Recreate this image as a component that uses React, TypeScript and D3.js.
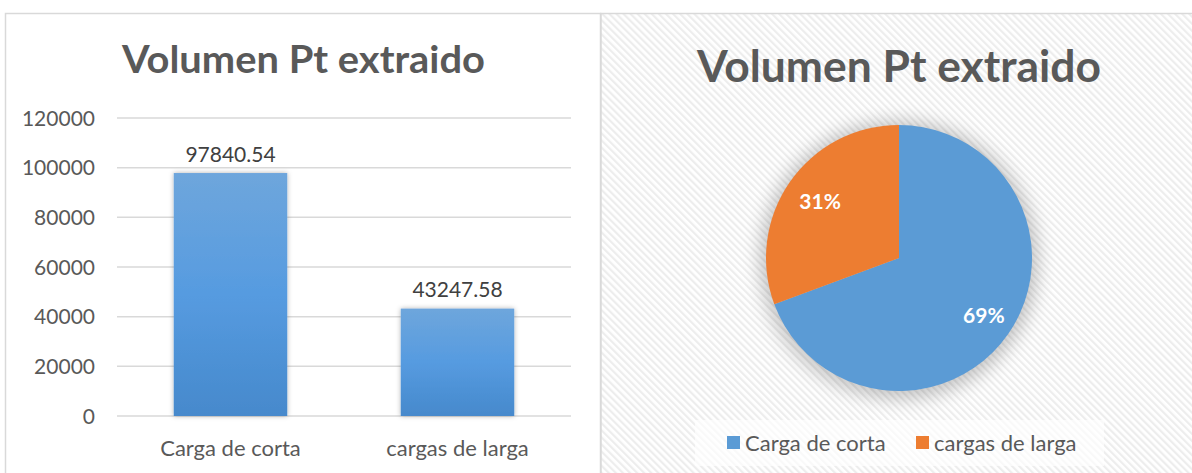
import React from "react";
import * as d3 from "d3";

const categories = ["Carga de corta", "cargas de larga"];
const values = [97840.54, 43247.58];
const yTicks = [0, 20000, 40000, 60000, 80000, 100000, 120000];
const title = "Volumen Pt extraido";
const pieColors = ["#5b9bd5", "#ed7d31"];

const FONT = "Lato, 'Open Sans', sans-serif";
const GREY = "#595959";

export default function App() {
  const x = d3
    .scaleBand<string>()
    .domain(categories)
    .range([117, 571])
    .paddingInner(0.5)
    .paddingOuter(0.25);
  const y = d3.scaleLinear().domain([0, 120000]).range([416, 118]);

  const cx = 899;
  const cy = 258;
  const r = 133;
  const pie = d3.pie<number>().sort(null).startAngle(0).endAngle(2 * Math.PI);
  const arcs = pie(values);
  const arcGen = d3.arc<d3.PieArcDatum<number>>().innerRadius(0).outerRadius(r);
  const labelArc = d3
    .arc<d3.PieArcDatum<number>>()
    .innerRadius(r * 0.75)
    .outerRadius(r * 0.75);
  const total = d3.sum(values);

  return (
    <svg
      width={1192}
      height={473}
      style={{ position: "absolute", left: 0, top: 0, background: "#fff" }}
    >
      <defs>
        <pattern
          id="stripes"
          width={5}
          height={5}
          patternUnits="userSpaceOnUse"
          patternTransform="rotate(-45)"
        >
          <rect width={5} height={5} fill="#ffffff" />
          <rect width={2.2} height={5} fill="#ededed" />
        </pattern>
        <linearGradient id="barGrad" x1="0" y1="0" x2="0" y2="1">
          <stop offset="0" stopColor="#6ea6dc" />
          <stop offset="0.5" stopColor="#569be0" />
          <stop offset="1" stopColor="#4689cc" />
        </linearGradient>
        <filter id="barShadow" x="-20%" y="-20%" width="140%" height="140%">
          <feDropShadow dx="0" dy="0" stdDeviation="2.5" floodColor="#000" floodOpacity="0.3" />
        </filter>
        <filter id="pieGlow" x="-30%" y="-30%" width="160%" height="160%">
          <feGaussianBlur stdDeviation="9" />
        </filter>
      </defs>

      {/* Left chart frame */}
      <rect x={5.5} y={13.5} width={595} height={480} fill="#fff" stroke="#d9d9d9" strokeWidth={1.5} />

      {/* Right chart frame */}
      <rect x={601} y={13.5} width={600} height={480} fill="url(#stripes)" stroke="#d9d9d9" strokeWidth={1.5} />

      {/* Left title */}
      <text
        x={303.5}
        y={73}
        textAnchor="middle"
        fontFamily={FONT}
        fontWeight="bold"
        fontSize={38}
        fill={GREY}
        textLength={363}
        lengthAdjust="spacingAndGlyphs"
      >
        {title}
      </text>

      {/* Gridlines & ticks */}
      {yTicks.map((t) => (
        <g key={t}>
          <line x1={117} x2={571} y1={y(t)} y2={y(t)} stroke="#d9d9d9" strokeWidth={1.5} />
          <text
            x={95}
            y={y(t)}
            dy="0.36em"
            textAnchor="end"
            fontFamily={FONT}
            fontSize={21}
            fill={GREY}
          >
            {t}
          </text>
        </g>
      ))}

      {/* Bars */}
      {categories.map((c, i) => (
        <g key={c}>
          <rect
            x={x(c)!}
            y={y(values[i])}
            width={x.bandwidth()}
            height={y(0) - y(values[i])}
            fill="url(#barGrad)"
            filter="url(#barShadow)"
          />
          <text
            x={x(c)! + x.bandwidth() / 2}
            y={y(values[i]) - 19}
            dy="0.36em"
            textAnchor="middle"
            fontFamily={FONT}
            fontSize={21}
            fill="#404040"
          >
            {values[i].toFixed(2)}
          </text>
          <text
            x={x(c)! + x.bandwidth() / 2}
            y={448}
            dy="0.36em"
            textAnchor="middle"
            fontFamily={FONT}
            fontSize={22}
            fill={GREY}
          >
            {c}
          </text>
        </g>
      ))}

      {/* Right title */}
      <text
        x={899}
        y={82}
        textAnchor="middle"
        fontFamily={FONT}
        fontWeight="bold"
        fontSize={43}
        fill={GREY}
        textLength={404}
        lengthAdjust="spacingAndGlyphs"
      >
        {title}
      </text>

      {/* Pie */}
      <circle cx={cx} cy={cy + 2} r={r + 6} fill="#000" opacity={0.22} filter="url(#pieGlow)" />
      <g transform={`translate(${cx},${cy})`}>
        {arcs.map((a, i) => (
          <path key={i} d={arcGen(a)!} fill={pieColors[i]} />
        ))}
        {arcs.map((a, i) => {
          const [lx, ly] = labelArc.centroid(a);
          return (
            <text
              key={"l" + i}
              x={lx + 3}
              y={ly}
              dy="0.36em"
              textAnchor="middle"
              fontFamily={FONT}
              fontWeight="bold"
              fontSize={21}
              fill="#fff"
            >
              {Math.round((a.value / total) * 100)}%
            </text>
          );
        })}
      </g>

      {/* Legend */}
      <rect x={695} y={420} width={409} height={46} fill="#fff" opacity={0.65} />
      {categories.map((c, i) => {
        const lx = [727, 916][i];
        return (
          <g key={"leg" + c}>
            <rect x={lx} y={436} width={13} height={13} fill={pieColors[i]} />
            <text x={lx + 18} y={443} dy="0.36em" fontFamily={FONT} fontSize={22} fill={GREY}>
              {c}
            </text>
          </g>
        );
      })}
    </svg>
  );
}
